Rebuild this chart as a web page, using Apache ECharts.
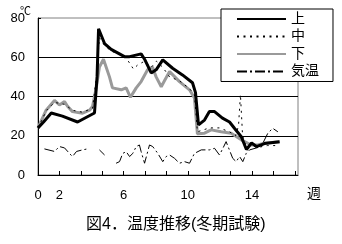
<!DOCTYPE html>
<html>
<head>
<meta charset="utf-8">
<script src="https://cdn.jsdelivr.net/npm/echarts@6/dist/echarts.min.js"></script>
<style>
html,body{margin:0;padding:0;background:#fff;}
#chart{width:342px;height:244px;}
</style>
</head>
<body>
<div id="chart"></div>
<script>
// x values are in axis-tick units (one tick mark = 1 unit)
const tickLabels = {0: '0', 1: '2', 4: '6', 7: '10', 10: '14'};
const seriesNames = ['上', '中', '下', '気温'];

const upper = [[0,24],[0.26,27],[0.62,31.6],[1.14,30],[1.85,27],[2.31,29.7],[2.64,31.6],[2.76,50],[2.83,74.5],
  [3.11,67],[3.42,64],[4.04,60.3],[4.28,60.3],[4.82,61.7],[4.98,59],[5.29,52],[5.52,53.6],[5.83,58.7],
  [6.29,54.4],[6.75,51],[7.22,47],[7.36,42],[7.5,25.5],[7.78,28],[8.01,32.3],[8.25,32.3],[8.62,29],
  [8.95,27],[9.18,23.8],[9.5,19.5],[9.74,13],[9.98,16.3],[10.21,14.5],[10.58,16],[11.29,17]];

const middle = [[0,24],[0.4,33],[0.77,37],[1.24,36],[1.61,33],[2.08,32],[2.55,34],[2.73,50],[2.87,70],
  [3.11,66],[3.43,63],[4.04,61],[4.28,57],[4.46,54],[4.65,56],[4.98,58],[5.3,55],[5.54,58],[5.82,55],
  [6.15,50],[6.61,48],[7.08,44],[7.31,41],[7.45,22],[8.01,24],[8.48,24],[8.95,22],[9.23,20],[9.37,25],
  [9.46,41],[9.56,20],[9.74,14],[9.98,15],[10.26,14],[10.72,15],[11.29,15]];

const lower = [[0,24],[0.38,33],[0.77,38],[1.0,35.7],[1.24,37.4],[1.38,35],[1.61,32.3],[2.08,31.5],[2.41,33],
  [2.55,35],[2.73,45],[2.87,55],[3.06,59],[3.34,50],[3.48,44.4],[3.89,43.4],[4.12,44.4],[4.32,39.6],
  [4.59,44.4],[4.82,47.6],[5.12,53.6],[5.35,55],[5.52,50],[5.76,45],[5.91,48],[6.15,52.7],[6.61,47.6],
  [7.08,43.4],[7.31,39.3],[7.45,21],[7.78,21.3],[8.09,23],[8.56,22],[9.03,21.3],[9.5,17.9],[9.96,15.3],
  [10.27,15.3],[10.58,16.2],[11.29,17]];

const airTemp = [[0.3,13.3],[0.77,12],[1.0,14.5],[1.24,13.8],[1.47,11],[1.61,9.4],[1.8,12],[2.08,12.8],[2.31,13.3],
  [2.6,null],[2.87,12.8],[3.11,10.2],[3.4,null],
  [3.65,6],[3.81,6.8],[3.96,11],[4.12,11.9],[4.28,9.4],[4.43,11],[4.59,14.5],[4.74,15.3],[4.82,11.9],[4.98,6],
  [5.21,15.3],[5.36,14.5],[5.6,11],[5.83,6.8],[5.99,9.4],[6.15,10.2],[6.38,8.5],[6.61,6],[6.85,6.8],[7.08,6],
  [7.31,11],[7.63,12.8],[8.01,12.8],[8.25,13.6],[8.48,10.2],[8.64,13.6],[8.79,17],[9.1,8.5],[9.26,6.8],
  [9.42,9.4],[9.57,6.8],[9.73,11],[9.89,12.8],[10.43,14.5],[10.74,21.3],[10.97,23.8],[11.21,22]];

const FONT = "'Liberation Sans','Noto Sans CJK JP',sans-serif";
const noMarker = {color: 'rgba(0,0,0,0)', borderWidth: 0, opacity: 0};
const chart = echarts.init(document.getElementById('chart'), null, {renderer: 'canvas'});
chart.setOption({
  animation: false,
  backgroundColor: '#fff',
  textStyle: {fontFamily: FONT, color: '#000'},
  title: {
    text: '図4．温度推移(冬期試験)',
    left: 81, top: 212,
    textStyle: {fontSize: 16, fontWeight: 'normal', color: '#000', fontFamily: FONT}
  },
  grid: {left: 38, right: 44, top: 18, bottom: 69, show: true, borderColor: '#808080', borderWidth: 1, backgroundColor: 'transparent'},
  legend: {
    orient: 'vertical', left: 221, top: 9,
    padding: [3, 14, 3, 15],
    itemWidth: 49, itemHeight: 14, itemGap: 3.5,
    borderColor: '#000', borderWidth: 1, backgroundColor: '#fff',
    itemStyle: noMarker,
    textStyle: {fontSize: 14, color: '#000', fontFamily: FONT},
    data: seriesNames
  },
  xAxis: {
    type: 'value', min: 0, max: 12.15, interval: 1,
    axisLine: {lineStyle: {color: '#000', width: 1}},
    axisTick: {inside: true, length: 4, lineStyle: {color: '#000'}},
    splitLine: {show: false},
    axisLabel: {
      margin: 14, fontSize: 13, color: '#000', fontFamily: FONT, showMaxLabel: false,
      formatter: v => tickLabels[Math.round(v)] !== undefined && Math.abs(v - Math.round(v)) < 1e-6 ? tickLabels[Math.round(v)] : ''
    }
  },
  yAxis: {
    type: 'value', min: 0, max: 80, interval: 20,
    axisLine: {show: true, lineStyle: {color: '#000', width: 1}},
    axisTick: {show: true, inside: true, length: 3, lineStyle: {color: '#000'}},
    splitLine: {show: true, showMaxLine: false, lineStyle: {color: '#000', width: 1}},
    axisLabel: {margin: 13, fontSize: 13, color: '#000', fontFamily: FONT, padding: [3, 0, 0, 0]}
  },
  graphic: [
    {type: 'text', left: 20, top: 6, style: {text: '℃', fontSize: 11, fill: '#000', fontFamily: FONT}},
    {type: 'text', left: 307, top: 187, style: {text: '週', fontSize: 14, fill: '#000', fontFamily: FONT}}
  ],
  series: [
    {name: '上', type: 'line', data: upper, symbol: 'none', lineStyle: {color: '#000', width: 3}, itemStyle: noMarker, z: 4},
    {name: '中', type: 'line', data: middle, symbol: 'none', lineStyle: {color: '#000', width: 1, type: [2, 4.5]}, itemStyle: noMarker, z: 5},
    {name: '下', type: 'line', data: lower, symbol: 'none', lineStyle: {color: '#9a9a9a', width: 3}, itemStyle: noMarker, z: 3},
    {name: '気温', type: 'line', data: airTemp, symbol: 'none', connectNulls: false, lineStyle: {color: '#000', width: 1, type: [10, 3, 2, 3]}, itemStyle: noMarker, z: 6}
  ]
});
</script>
</body>
</html>
